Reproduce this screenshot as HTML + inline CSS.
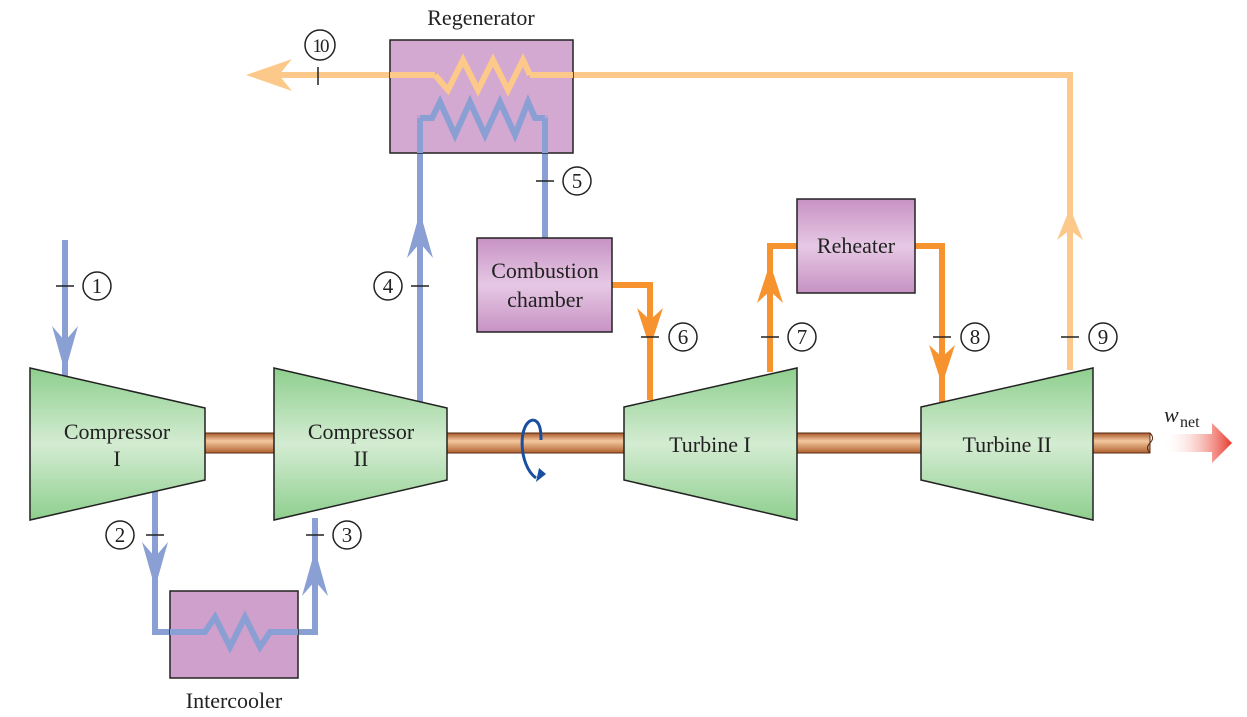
<!DOCTYPE html>
<html><head><meta charset="utf-8"><style>
html,body{margin:0;padding:0;background:#fff;}
svg{display:block;}
text{font-family:"Liberation Serif",serif;fill:#222;}
</style></head><body>
<svg width="1247" height="717" viewBox="0 0 1247 717" xmlns="http://www.w3.org/2000/svg">
<defs>
<linearGradient id="g" x1="0" y1="0" x2="0" y2="1">
<stop offset="0" stop-color="#8ecf8e"/><stop offset="0.5" stop-color="#d4ecd2"/><stop offset="1" stop-color="#8ecf8e"/>
</linearGradient>
<linearGradient id="p" x1="0" y1="0" x2="0" y2="1">
<stop offset="0" stop-color="#c792c4"/><stop offset="0.5" stop-color="#e6c8e4"/><stop offset="1" stop-color="#c792c4"/>
</linearGradient>
<linearGradient id="s" x1="0" y1="0" x2="0" y2="1">
<stop offset="0" stop-color="#a8582a"/><stop offset="0.4" stop-color="#f4c8a0"/><stop offset="1" stop-color="#b0602e"/>
</linearGradient>
<linearGradient id="r" x1="0" y1="0" x2="1" y2="0">
<stop offset="0" stop-color="#fff" stop-opacity="0"/><stop offset="1" stop-color="#e8392a"/>
</linearGradient>
</defs>

<rect x="200" y="433" width="950" height="20" fill="url(#s)" stroke="#5a2a10" stroke-width="1"/>
<path d="M1150 433 q5 5 0 10 q-5 5 0 10" fill="none" stroke="#5a2a10"/>
<polygon points="1163,434 1212,434 1212,423 1232,443 1212,463 1212,452 1163,452" fill="url(#r)"/>
<text x="1164" y="422" font-size="22" font-style="italic">w</text><text x="1180" y="427" font-size="16">net</text>

<path d="M533 420 C518 422 518 465 536 478" fill="none" stroke="#1a4fa0" stroke-width="3"/>
<path d="M533 420 C540 421 541 430 541 440" fill="none" stroke="#1a4fa0" stroke-width="3"/>
<polygon points="536,482 539,468 546,474" fill="#1a4fa0"/>

<g fill="none" stroke="#8a9fd3" stroke-width="6">
<path d="M65 240 V378"/>
<path d="M155 485 V632 H205 L215 617 L230 647 L245 617 L260 647 L270 632 H315 V518"/>
<path d="M420 405 V118 H432 L440 102 L455 135 L470 102 L485 135 L500 102 L515 135 L528 102 L535 118 H545 V238"/>
</g>
<g fill="#8a9fd3">
<polygon points="65,372 52,326 65,341 78,326"/>
<polygon points="155,588 142,542 155,557 168,542"/>
<polygon points="315,550 302,596 315,581 328,596"/>
<polygon points="420,212 407,258 420,243 433,258"/>
</g>

<g fill="none" stroke="#fcc98a" stroke-width="6">
<path d="M1070 370 V75 H530 L523 60 L508 90 L493 60 L478 90 L463 60 L448 90 L435 75 H265"/>
</g>
<polygon points="246,75 292,59 279,75 292,91" fill="#fcc98a"/>
<polygon points="1070,208 1057,240 1070,230 1083,240" fill="#fcc98a"/>

<g fill="none" stroke="#f7932f" stroke-width="6">
<path d="M612 285 H650 V400"/>
<path d="M770 372 V246 H797"/>
<path d="M915 246 H942 V405"/>
</g>
<g fill="#f7932f">
<polygon points="650,348 637,308 650,320 663,308"/>
<polygon points="770,263 757,303 770,291 783,303"/>
<polygon points="942,385 929,345 942,357 955,345"/>
</g>

<rect x="390" y="40" width="183" height="113" fill="#cfa0cc" stroke="#222" stroke-width="1.5" fill-opacity="0.9"/>
<g fill="none" stroke-width="6">
<path d="M530 75 L523 60 L508 90 L493 60 L478 90 L463 60 L448 90 L435 75" stroke="#fcc98a"/>
<path d="M420 118 H432 L440 102 L455 135 L470 102 L485 135 L500 102 L515 135 L528 102 L535 118 H545" stroke="#8a9fd3"/>
<path d="M390 75 H435 M530 75 H573" stroke="#fcc98a"/>
<path d="M420 118 V153 M545 118 V153" stroke="#8a9fd3"/>
</g>
<rect x="170" y="591" width="128" height="87" fill="#cfa0cc" stroke="#222" stroke-width="1.5"/>
<path d="M170 632 H205 L215 617 L230 647 L245 617 L260 647 L270 632 H298" fill="none" stroke="#8a9fd3" stroke-width="6"/>
<rect x="477" y="238" width="135" height="94" fill="url(#p)" stroke="#222" stroke-width="1.5"/>
<rect x="797" y="199" width="118" height="94" fill="url(#p)" stroke="#222" stroke-width="1.5"/>

<g fill="url(#g)" stroke="#222" stroke-width="1.5">
<polygon points="30,368 205,408 205,480 30,520"/>
<polygon points="274,368 447,408 447,480 274,520"/>
<polygon points="624,407 797,368 797,520 624,480"/>
<polygon points="921,407 1093,368 1093,520 921,480"/>
</g>

<g font-size="22" text-anchor="middle">
<text x="481" y="25">Regenerator</text>
<text x="234" y="708">Intercooler</text>
<text x="117" y="439">Compressor</text><text x="117" y="466">I</text>
<text x="361" y="439">Compressor</text><text x="361" y="466">II</text>
<text x="710" y="452">Turbine I</text>
<text x="1007" y="452">Turbine II</text>
<text x="545" y="278">Combustion</text><text x="545" y="307">chamber</text>
<text x="856" y="253">Reheater</text>
</g>

<g stroke="#222" stroke-width="1.5" fill="none">
<path d="M56 286 H74 M146 535 H164 M306 535 H324 M411 286 H429 M536 181 H554 M641 337 H659 M761 337 H779 M933 337 H951 M1061 337 H1079 M318 67 V85"/>
<circle cx="97" cy="286" r="14"/><circle cx="120" cy="535" r="14"/><circle cx="347" cy="535" r="14"/>
<circle cx="388" cy="286" r="14"/><circle cx="577" cy="181" r="14"/><circle cx="683" cy="337" r="14"/>
<circle cx="802" cy="337" r="14"/><circle cx="975" cy="337" r="14"/><circle cx="1103" cy="337" r="14"/>
<circle cx="320" cy="45" r="15"/>
</g>
<g font-size="21" text-anchor="middle">
<text x="97" y="293">1</text><text x="120" y="542">2</text><text x="347" y="542">3</text>
<text x="388" y="293">4</text><text x="577" y="188">5</text><text x="683" y="344">6</text>
<text x="802" y="344">7</text><text x="975" y="344">8</text><text x="1103" y="344">9</text>
<text x="320" y="52" font-size="19" letter-spacing="-2">10</text>
</g>
</svg>
</body></html>
